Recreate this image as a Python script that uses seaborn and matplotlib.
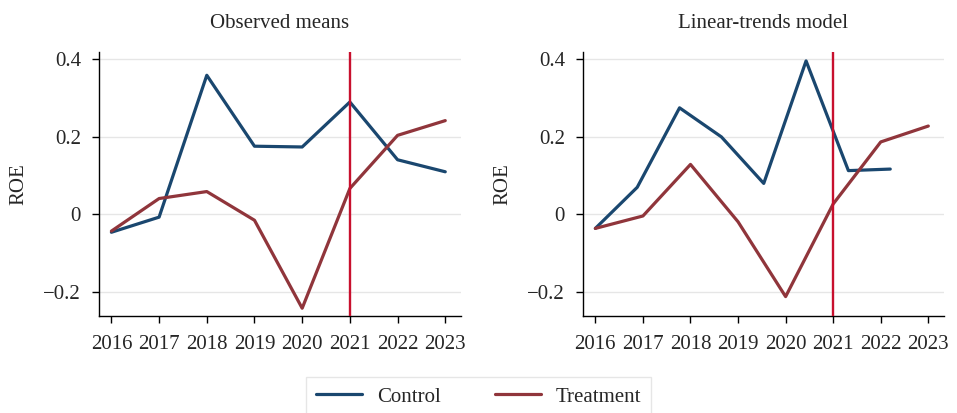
import matplotlib
matplotlib.use("Agg")
import matplotlib.pyplot as plt
import seaborn as sns
import pandas as pd

years = [2016, 2017, 2018, 2019, 2020, 2021, 2022, 2023]

# Observed means
obs_control = [-0.047, -0.008, 0.358, 0.175, 0.173, 0.289, 0.140, 0.109]
obs_treatment = [-0.044, 0.040, 0.058, -0.016, -0.243, 0.066, 0.203, 0.241]

# Linear-trends model
lt_control_x = [2016.0, 2016.88, 2017.77, 2018.65, 2019.54, 2020.43, 2021.32, 2022.2]
lt_control = [-0.037, 0.069, 0.274, 0.199, 0.079, 0.395, 0.112, 0.116]
lt_treatment = [-0.037, -0.005, 0.128, -0.020, -0.213, 0.026, 0.186, 0.227]

treat_year = 2021
yticks = [-0.2, 0, 0.2, 0.4]
ytick_labels = ["\u22120.2", "0", "0.2", "0.4"]
titles = ["Observed means", "Linear-trends model"]

CONTROL = "#1a476f"
TREATMENT = "#90353b"
VLINE = "#c8102e"

sns.set_theme(style="white")
plt.rcParams["font.family"] = ["Liberation Serif", "DejaVu Serif"]

fig = plt.figure(figsize=(9.57, 4.13), dpi=100)
ax1 = fig.add_axes([99 / 957, 1 - 316 / 413, 362 / 957, 264 / 413])
ax2 = fig.add_axes([583 / 957, 1 - 316 / 413, 361 / 957, 264 / 413])

frames = [
    pd.DataFrame({
        "year": years + years,
        "ROE": obs_control + obs_treatment,
        "group": ["Control"] * 8 + ["Treatment"] * 8,
    }),
    pd.DataFrame({
        "year": lt_control_x + years,
        "ROE": lt_control + lt_treatment,
        "group": ["Control"] * 8 + ["Treatment"] * 8,
    }),
]

for ax, df, title in zip([ax1, ax2], frames, titles):
    for y in yticks:
        ax.axhline(y, color="#e6e6e6", lw=1.0, zorder=0)
    sns.lineplot(data=df, x="year", y="ROE", hue="group",
                 palette={"Control": CONTROL, "Treatment": TREATMENT},
                 lw=2.3, ax=ax, legend=False, sort=False, zorder=3)
    ax.axvline(treat_year, color=VLINE, lw=1.7, zorder=4)
    ax.set_xlim(2015.74, 2023.33)
    ax.set_ylim(-0.263, 0.418)
    ax.set_xticks(years)
    ax.set_xticklabels([str(y) for y in years])
    ax.set_yticks(yticks)
    ax.set_yticklabels(ytick_labels)
    ax.tick_params(axis="both", direction="out", length=5, width=1,
                   color="black", labelsize=15, bottom=True, left=True)
    ax.tick_params(axis="x", pad=9)
    ax.tick_params(axis="y", pad=8)
    ax.set_xlabel("")
    ax.set_ylabel("ROE", fontsize=15, labelpad=11)
    ax.set_title(title, fontsize=15, pad=17)
    for side in ["top", "right"]:
        ax.spines[side].set_visible(False)
    for side in ["left", "bottom"]:
        ax.spines[side].set_color("black")
        ax.spines[side].set_linewidth(1.0)

handles = [
    plt.Line2D([], [], color=CONTROL, lw=2.3),
    plt.Line2D([], [], color=TREATMENT, lw=2.3),
]
leg = fig.legend(handles, ["Control", "Treatment"], loc="lower center",
                 bbox_to_anchor=(0.5, -0.035), ncol=2, fontsize=15,
                 frameon=True, fancybox=False, handlelength=2.2,
                 columnspacing=2.6, borderpad=0.5, handletextpad=0.7)
leg.get_frame().set_edgecolor("#e0e0e0")
leg.get_frame().set_linewidth(1.0)

fig.savefig("out.png", dpi=100, facecolor="white")
